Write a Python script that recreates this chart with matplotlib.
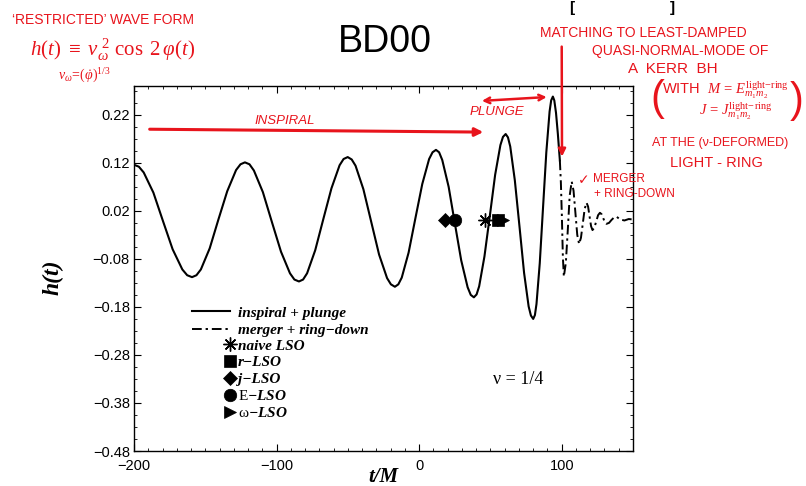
import matplotlib
matplotlib.use("Agg")
import matplotlib.pyplot as plt
from matplotlib.ticker import MultipleLocator, FixedLocator
from matplotlib.font_manager import FontProperties
import numpy as np

plt.rcParams['font.family'] = 'Liberation Sans'
plt.rcParams['mathtext.fontset'] = 'custom'
plt.rcParams['mathtext.rm'] = 'Liberation Serif'
plt.rcParams['mathtext.it'] = 'Liberation Serif:italic'
plt.rcParams['mathtext.bf'] = 'Liberation Serif:bold'

# inspiral + plunge (solid)
t_insp = [-200, -196.6, -193.2, -186.4, -179.7, -172.9, -166.1, -162.7, -159.3,
          -156.2, -153.1, -146.9, -140.8, -134.6, -128.4, -125.3, -122.2,
          -119.0, -115.9, -109.6, -103.3, -96.9, -90.6, -87.5, -84.3,
          -81.4, -78.6, -72.9, -67.2, -61.5, -55.8, -53.0, -50.1,
          -47.3, -44.6, -39.1, -33.6, -28.1, -22.5, -19.8, -17.0,
          -14.6, -12.2, -7.4, -2.6, 2.2, 7.0, 9.4, 11.8,
          14.0, 16.2, 20.7, 25.1, 29.5, 34.0, 36.2, 38.4,
          40.3, 42.1, 45.8, 49.6, 53.3, 57.0, 58.8, 60.7,
          62.3, 63.9, 67.1, 70.4, 73.6, 76.8, 78.4, 80.0,
          81.2, 82.3, 84.6, 86.9, 89.2, 91.5, 92.6, 93.8,
          94.8, 96.0, 97.3, 98.7]
h_insp = [0.116, 0.112, 0.100, 0.058, -0.001, -0.060, -0.102, -0.114, -0.118,
          -0.114, -0.102, -0.058, 0.002, 0.061, 0.105, 0.117, 0.121,
          0.117, 0.104, 0.059, -0.003, -0.065, -0.110, -0.123, -0.127,
          -0.123, -0.110, -0.062, 0.003, 0.067, 0.115, 0.128, 0.132,
          0.127, 0.114, 0.065, -0.003, -0.071, -0.120, -0.133, -0.138,
          -0.133, -0.119, -0.067, 0.005, 0.076, 0.128, 0.142, 0.147,
          0.142, 0.126, 0.070, -0.007, -0.083, -0.139, -0.155, -0.160,
          -0.154, -0.137, -0.075, 0.010, 0.095, 0.157, 0.174, 0.180,
          0.173, 0.154, 0.084, -0.013, -0.109, -0.179, -0.198, -0.205,
          -0.197, -0.174, -0.089, 0.027, 0.142, 0.227, 0.250, 0.258,
          0.250, 0.224, 0.180, 0.125]

# merger + ring-down (dash-dot)
t_ring = [98.7, 99.4, 100.1, 100.8, 101.5, 102.9, 104.3, 105.6, 107.0,
          108.3, 109.6, 110.9, 112.2, 113.5, 114.8, 116.1, 117.4,
          118.5, 119.5, 120.6, 121.6, 122.9, 124.2, 125.5, 126.8,
          128.0, 129.1, 130.3, 131.4, 133.2, 134.9, 136.6, 138.4,
          141.0, 144.0, 147.0, 150.0]
h_ring = [0.125, 0.080, 0.010, -0.075, -0.117, -0.088, -0.018, 0.052, 0.081,
          0.062, 0.016, -0.030, -0.049, -0.036, -0.006, 0.024, 0.037,
          0.029, 0.009, -0.012, -0.020, -0.015, -0.002, 0.011, 0.016,
          0.013, 0.005, -0.004, -0.007, -0.005, 0.001, 0.006, 0.008,
          0.002, 0.000, 0.003, 0.002]

# last stable orbit markers
lso_labels = ['naive LSO', 'r\u2212LSO', 'j\u2212LSO', '$\\mathrm{E}$\u2212LSO', '$\\mathrm{\\omega}$\u2212LSO']
lso_t = [46, 55, 18, 25, 59]
lso_h = [0.0, 0.0, 0.0, 0.0, 0.0]
lso_markers = [(8, 2, 0), 's', 'D', 'o', '>']
lso_sizes = [10, 8, 7, 9, 9]

xticks = [-200, -100, 0, 100]
yticks = [-0.48, -0.38, -0.28, -0.18, -0.08, 0.02, 0.12, 0.22]

RED = '#e8141c'
W, H = 806, 486


def fpx(x, y):
    # pixel position (from top-left) -> figure fraction
    return x / W, 1 - y / H


fig = plt.figure(figsize=(W / 100, H / 100), dpi=100)
ax = fig.add_axes([134 / W, 1 - 451 / H, (633 - 134) / W, (451 - 86) / H])

dashdot = (0, (5, 2, 1.2, 2))
l1, = ax.plot(t_insp, h_insp, color='k', lw=1.5, label='inspiral + plunge')
l2, = ax.plot(t_ring, h_ring, color='k', lw=1.4, ls=dashdot, label='merger + ring\u2212down')

mk_lines = []
for i in range(len(lso_t)):
    m, = ax.plot(lso_t[i], lso_h[i], ls='none', marker=lso_markers[i], ms=lso_sizes[i],
                 color='k', mec='k', mew=1.0 if i == 0 else 0.5, label=lso_labels[i], zorder=3)
    mk_lines.append(m)

ax.set_xlim(-200, 150)
ax.set_ylim(-0.48, 0.28)
ax.set_xticks(xticks)
ax.set_yticks(yticks)
ax.set_yticklabels([('%.2f' % v).replace('-', '\u2212') for v in yticks])
ax.xaxis.set_minor_locator(MultipleLocator(10))
ax.yaxis.set_minor_locator(FixedLocator(np.arange(-0.48, 0.2801, 0.025)))
ax.tick_params(which='both', direction='in', top=True, right=True)
ax.tick_params(which='major', length=5, width=0.8, labelsize=10.5)
ax.tick_params(axis='x', which='major', pad=6)
ax.tick_params(axis='y', which='major', pad=3)
ax.tick_params(which='minor', length=2.5, width=0.6)
for s in ax.spines.values():
    s.set_linewidth(1.0)

lab = dict(family='Liberation Serif', style='italic', weight='bold')
ax.set_xlabel('t/M', size=15, **lab)
ax.set_ylabel('h(t)', size=17, **lab)
ax.xaxis.set_label_coords(0.5, -0.045)
ax.yaxis.set_label_coords(-0.142, 0.477)

fp = FontProperties(family='Liberation Serif', style='italic', weight='bold', size=11)
legA = ax.legend(handles=[l1, l2], loc='upper left', bbox_to_anchor=fpx(192, 306),
                 bbox_transform=fig.transFigure, frameon=False, borderpad=0, borderaxespad=0,
                 handlelength=2.5, handletextpad=0.5, labelspacing=0.25, prop=fp)
ax.add_artist(legA)
ax.legend(handles=mk_lines, loc='upper left', bbox_to_anchor=fpx(225, 339),
          bbox_transform=fig.transFigure, frameon=False, borderpad=0, borderaxespad=0,
          handlelength=0.6, handletextpad=0.25, labelspacing=0.2, numpoints=1, prop=fp)

ax.text(0.77, 0.197, '\u03bd = 1/4', transform=ax.transAxes, family='Liberation Serif',
        size=13, ha='center', va='center')

fig.text(*fpx(385, 42), 'BD00', size=27, ha='center', va='center')
fig.text(*fpx(572, 1), '[', size=11, ha='center', va='top', weight='bold')
fig.text(*fpx(672, 1), ']', size=11, ha='center', va='top', weight='bold')

# hand-written red notes
hand = dict(color=RED, ha='left', va='center')
fig.text(*fpx(12, 20), '\u2018RESTRICTED\u2019 WAVE FORM', size=10, **hand)
fig.text(*fpx(30, 50), r'$h(t)\ \equiv\ v_\omega^{\ 2}\ \cos\ 2\,\varphi(t)$', size=15, **hand)
fig.text(*fpx(58, 76), r'$v_\omega\!=\!(\dot{\varphi})^{1/3}$', size=10, **hand)
ax.text(-94, 0.207, 'INSPIRAL', size=9.5, style='italic', color=RED, ha='center', va='center')
ax.text(54.5, 0.225, 'PLUNGE', size=9.5, style='italic', color=RED, ha='center', va='center')
fig.text(*fpx(540, 33), 'MATCHING TO LEAST-DAMPED', size=10, **hand)
fig.text(*fpx(592, 51), 'QUASI-NORMAL-MODE OF', size=10, **hand)
fig.text(*fpx(628, 69), 'A  KERR  BH', size=11, **hand)
fig.text(*fpx(650, 99), '(', size=30, color=RED, ha='left', va='center', weight='light')
fig.text(*fpx(790, 101), ')', size=30, color=RED, ha='left', va='center', weight='light')
fig.text(*fpx(662, 90), r'WITH  $M\,=\,E^{\mathrm{light\!-\!ring}}_{m_1 m_2}$', size=10.5, **hand)
fig.text(*fpx(699, 111), r'$J\,=\,J^{\mathrm{light\!-\!ring}}_{m_1 m_2}$', size=10.5, **hand)
fig.text(*fpx(652, 143), 'AT THE (\u03bd-DEFORMED)', size=9, **hand)
fig.text(*fpx(670, 163), 'LIGHT - RING', size=10.5, **hand)
fig.text(*fpx(578, 180), '\u2713', size=10, color=RED, ha='left', va='center', family='DejaVu Sans')
fig.text(*fpx(593, 179), 'MERGER', size=8.5, **hand)
fig.text(*fpx(594, 194), '+ RING-DOWN', size=8.5, **hand)

ax.annotate('', xy=(45, 0.184), xytext=(-189, 0.190), annotation_clip=False,
            arrowprops=dict(arrowstyle='-|>', color=RED, lw=2.2, mutation_scale=12, shrinkA=0, shrinkB=0))
ax.annotate('', xy=(89.5, 0.257), xytext=(44, 0.249), annotation_clip=False,
            arrowprops=dict(arrowstyle='<->', color=RED, lw=1.8, mutation_scale=10, shrinkA=0, shrinkB=0))
ax.annotate('', xy=(t_ring[0] + 1.5, h_ring[0] + 0.008), xytext=(100, 0.362), annotation_clip=False,
            arrowprops=dict(arrowstyle='-|>', color=RED, lw=1.8, mutation_scale=11, shrinkA=0, shrinkB=0))

fig.savefig('out.png', dpi=100)
